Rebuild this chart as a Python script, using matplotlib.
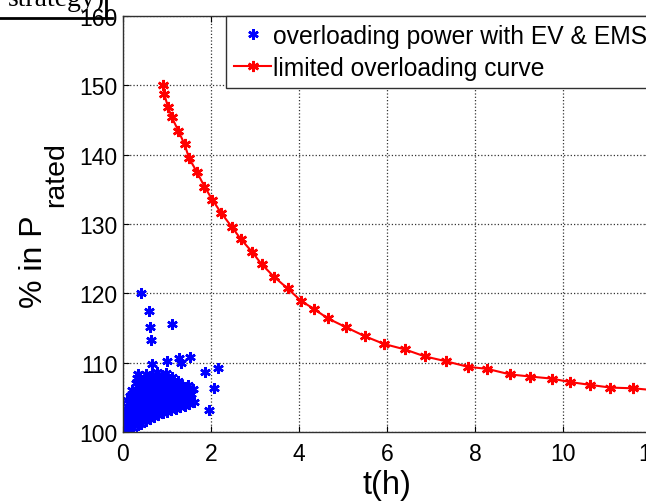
import matplotlib
matplotlib.use("Agg")
import matplotlib.pyplot as plt
from matplotlib.lines import Line2D
import numpy as np

plt.rcParams['font.family'] = ['Liberation Sans', 'DejaVu Sans']

# limited overloading curve (t in h, % of rated power)
t_limit = [0.90, 0.94, 1.02, 1.11, 1.26, 1.40, 1.50, 1.68, 1.85, 2.03, 2.23, 2.47,
           2.68, 2.93, 3.15, 3.43, 3.74, 4.05, 4.35, 4.65, 5.07, 5.50, 5.93, 6.41,
           6.86, 7.34, 7.84, 8.28, 8.80, 9.25, 9.74, 10.16, 10.61, 11.08, 11.60, 12.10]
p_limit = [150.1, 148.7, 146.9, 145.4, 143.4, 141.5, 139.5, 137.5, 135.4, 133.5, 131.6, 129.6,
           127.8, 126.0, 124.2, 122.4, 120.7, 118.9, 117.7, 116.4, 115.1, 113.8, 112.7, 111.9,
           110.9, 110.2, 109.4, 109.1, 108.3, 108.0, 107.7, 107.2, 106.8, 106.4, 106.3, 106.0]

# overloading events with EV & EMS as (t, %)
ev_points = [
    (0.00, 100.0), (0.03, 100.1), (0.07, 100.3), (0.10, 100.4),
    (0.02, 100.2), (0.04, 100.8), (0.06, 101.5), (0.05, 102.3), (0.08, 103.0), (0.10, 103.8),
    (0.09, 104.6), (0.12, 100.5), (0.14, 101.2), (0.15, 102.0), (0.13, 102.8), (0.16, 103.5),
    (0.18, 104.3), (0.17, 105.2), (0.20, 106.0),
    (0.22, 100.6), (0.24, 101.4), (0.25, 102.2), (0.23, 103.0), (0.27, 103.8), (0.26, 104.6),
    (0.28, 105.4), (0.30, 106.2), (0.29, 107.0), (0.32, 107.8), (0.35, 108.4), (0.33, 101.0),
    (0.34, 101.9), (0.36, 102.7), (0.31, 103.5), (0.37, 104.3), (0.35, 105.1), (0.38, 105.9),
    (0.36, 106.7), (0.40, 107.5),
    (0.42, 101.1), (0.44, 102.0), (0.45, 102.8), (0.43, 103.6), (0.47, 104.4), (0.46, 105.2),
    (0.48, 106.0), (0.50, 106.8), (0.49, 107.6), (0.52, 108.3), (0.53, 101.6), (0.55, 102.4),
    (0.54, 103.2), (0.56, 104.0), (0.52, 104.8), (0.57, 105.6), (0.55, 106.4), (0.58, 107.2),
    (0.56, 108.0),
    (0.62, 101.8), (0.64, 102.6), (0.63, 103.4), (0.66, 104.2), (0.65, 105.0), (0.67, 105.8),
    (0.64, 106.6), (0.68, 107.4), (0.66, 108.2), (0.70, 102.2), (0.72, 103.0), (0.71, 103.8),
    (0.74, 104.6), (0.73, 105.4), (0.75, 106.2), (0.72, 107.0), (0.76, 107.8), (0.78, 108.6),
    (0.80, 102.4), (0.82, 103.2), (0.81, 104.0), (0.84, 104.8), (0.83, 105.6), (0.86, 106.4),
    (0.85, 107.2), (0.88, 108.0), (0.90, 102.8), (0.92, 103.6), (0.91, 104.4), (0.94, 105.2),
    (0.93, 106.0), (0.96, 106.8), (0.95, 107.6), (0.98, 108.5),
    (1.00, 102.9), (1.02, 103.7), (1.01, 104.5), (1.04, 105.3), (1.03, 106.1), (1.06, 106.9),
    (1.05, 107.7), (1.10, 103.2), (1.12, 104.0), (1.11, 104.8), (1.14, 105.6), (1.13, 106.4),
    (1.16, 107.2), (1.12, 108.0),
    (1.20, 103.3), (1.22, 104.1), (1.21, 104.9), (1.24, 105.7), (1.23, 106.5), (1.26, 107.3),
    (1.30, 103.6), (1.32, 104.4), (1.31, 105.2), (1.34, 106.0), (1.33, 106.8),
    (1.40, 103.7), (1.42, 104.5), (1.41, 105.3), (1.44, 106.1), (1.50, 104.0), (1.52, 104.8),
    (1.55, 105.5), (1.58, 106.2), (1.48, 106.8), (1.62, 104.3),
    (0.42, 120.0), (0.58, 117.4), (0.61, 115.1), (0.64, 113.3), (1.12, 115.6), (0.65, 109.8),
    (0.99, 110.2), (1.28, 110.7), (1.52, 110.8), (1.31, 110.0), (1.86, 108.7), (2.15, 109.2),
    (2.07, 106.3), (1.96, 103.1), (0.35, 108.4),
]

x_ticks = [0, 2, 4, 6, 8, 10, 12]
y_ticks = [100, 110, 120, 130, 140, 150, 160]

ev = np.array(ev_points)

fig = plt.figure(figsize=(6.46, 5.02), dpi=100)
ax = fig.add_axes([0.1904, 0.1375, 0.8173, 0.8287])

ax.plot(ev[:, 0], ev[:, 1], linestyle='none', marker=(6, 2, 0), color='#0000ff',
        markersize=7.5, markeredgewidth=1.8, label='overloading power with EV & EMS')
ax.plot(t_limit, p_limit, '-', color='#ff0000', linewidth=1.5, marker=(6, 2, 0),
        markersize=8, markeredgewidth=1.8, label='limited overloading curve')

ax.set_xlim(0, 12)
ax.set_ylim(100, 160)
ax.set_xticks(x_ticks)
ax.set_yticks(y_ticks)
ax.grid(True, linestyle=':', color='#333333', linewidth=0.9)
ax.set_axisbelow(True)
ax.tick_params(direction='in', length=4, top=True, right=True, labelsize=16.5,
               width=0.8)
ax.tick_params(axis='x', pad=7)
ax.tick_params(axis='y', pad=4)
for s in ax.spines.values():
    s.set_linewidth(1.0)
    s.set_color('#303030')

ax.set_xlabel('t(h)', fontsize=23.5, va='top')
ax.xaxis.set_label_coords(0.5, -0.088)

# y label: "% in P" with a large "rated" subscript, as in the original
fig.text(42 / 646, 1 - 308 / 502, '% in P', fontsize=23, rotation=90,
         rotation_mode='anchor', ha='left', va='baseline')
fig.text(63 / 646, 1 - 207 / 502, 'rated', fontsize=20.5, rotation=90,
         rotation_mode='anchor', ha='left', va='baseline')

leg = ax.legend(loc='upper left', bbox_to_anchor=(0.195, 1.0), borderaxespad=0,
                fontsize=17.7, fancybox=False, framealpha=1, edgecolor='#303030',
                handlelength=1.5, handletextpad=0.1, borderpad=0.33,
                labelspacing=0.32, numpoints=1)
leg.get_frame().set_linewidth(1.0)

# cropped remains of the page above the figure
fig.text(8 / 646, 1 - 6 / 502, 'strategy)', fontsize=20, family='Liberation Serif',
         va='baseline', ha='left')
fig.add_artist(Line2D([0, 112 / 646], [1 - 19 / 502, 1 - 19 / 502], color='black',
                      linewidth=2, transform=fig.transFigure))
fig.add_artist(Line2D([106 / 646, 106 / 646], [1 - 19 / 502, 1.0], color='black',
                      linewidth=2, transform=fig.transFigure))

fig.savefig('out.png', dpi=100)
